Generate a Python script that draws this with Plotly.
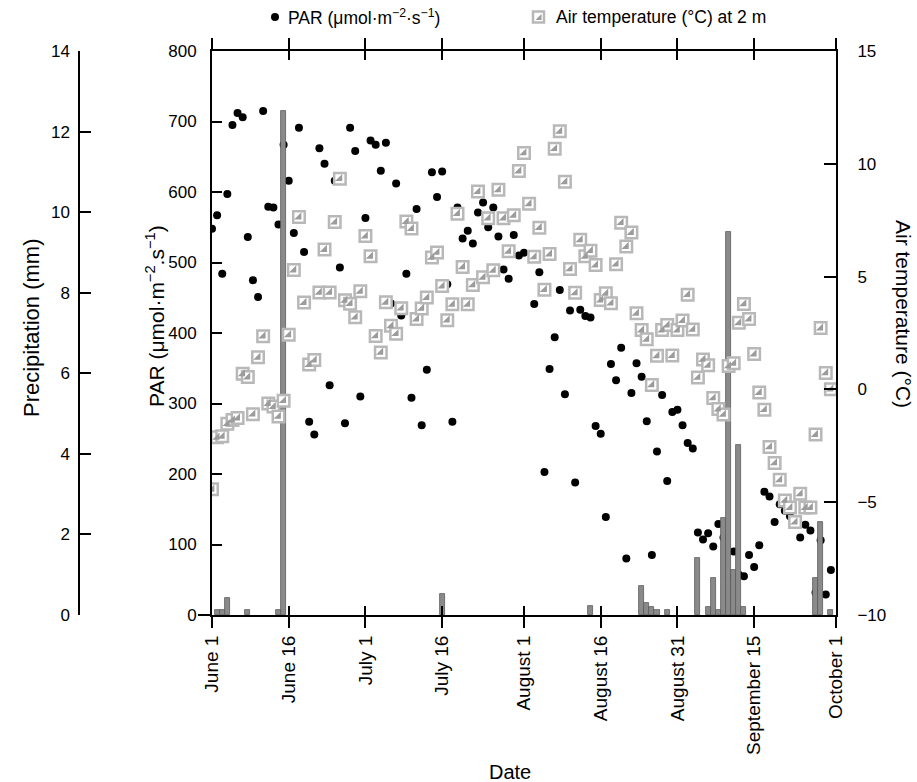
import pandas as pd
import plotly.graph_objects as go

# daily values, 1 June .. 30 September
par = [548, 567, 484, 597, 695, 712, 706, 536, 475, 451,
       715, 579, 578, 554, 667, 616, 542, 691, 515, 274,
       256, 662, 640, 326, 616, 493, 272, 691, 658, 310,
       563, 673, 667, 630, 670, 442, 612, 425, 484, 308,
       576, 269, 348, 628, 593, 629, 469, 274, 578, 534,
       545, 527, 571, 585, 550, 578, 537, 490, 477, 539,
       510, 514, 584, 441, 486, 203, 349, 394, 461, 313,
       432, 188, 433, 424, 422, 268, 257, 139, 356, 333,
       379, 80, 315, 357, 338, 275, 85, 232, 312, 190,
       288, 291, 269, 244, 236, 117, 107, 116, 97, 129,
       110, 54, 90, 57, 55, 85, 68, 99, 175, 168,
       132, 157, 148, 140, 128, 110, 128, 120, 32, 106,
       29, 64]

temp = [-4.43, -2.12, -2.08, -1.52, -1.36, -1.27, 0.69, 0.55, -1.10, 1.42,
        2.36, -0.63, -0.76, -1.2, -0.50, 2.42, 5.29, 7.64, 3.85, 1.1,
        1.3, 4.30, 6.2, 4.30, 7.42, 9.34, 3.95, 3.8, 3.2, 4.35,
        6.8, 5.9, 2.37, 1.64, 3.86, 2.82, 2.47, 3.6, 7.44, 7.13,
        3.12, 3.59, 4.07, 5.85, 6.07, 4.58, 3.07, 3.77, 7.79, 5.43,
        3.77, 4.63, 8.77, 4.97, 7.59, 5.28, 8.85, 7.59, 6.12, 7.72,
        9.68, 10.48, 8.23, 5.88, 7.17, 4.42, 6.0, 10.67, 11.44, 9.2,
        5.34, 4.28, 6.63, 5.9, 6.15, 5.51, 3.96, 4.26, 3.82, 5.55,
        7.39, 6.33, 6.95, 3.37, 2.63, 2.22, 0.2, 1.49, 2.63, 2.85,
        1.5, 2.63, 3.05, 4.2, 2.66, 0.53, 1.33, 1.07, -0.38, -0.87,
        -1.11, 1.04, 1.16, 2.95, 3.79, 3.12, 1.57, -0.14, -0.9, -2.55,
        -3.26, -4.01, -4.92, -5.24, -5.88, -4.63, -5.24, -5.24, -2.0, 2.72,
        0.73, 0.01]

rain_dates = ["2013-06-02", "2013-06-03", "2013-06-04", "2013-06-08", "2013-06-14",
              "2013-06-15", "2013-07-16", "2013-08-14", "2013-08-24", "2013-08-25",
              "2013-08-26", "2013-08-27", "2013-08-29", "2013-09-04", "2013-09-06",
              "2013-09-07", "2013-09-08", "2013-09-09", "2013-09-10", "2013-09-11",
              "2013-09-12", "2013-09-13", "2013-09-27", "2013-09-28", "2013-09-30"]
rain_mm = [0.13, 0.13, 0.42, 0.13, 0.13,
           12.5, 0.52, 0.23, 0.72, 0.31,
           0.21, 0.12, 0.12, 1.42, 0.21,
           0.91, 0.12, 2.42, 9.5, 1.12,
           4.22, 0.21, 0.91, 2.31, 0.12]

tick_dates = ["2013-06-01", "2013-06-16", "2013-07-01", "2013-07-16", "2013-08-01",
              "2013-08-16", "2013-08-31", "2013-09-15", "2013-10-01"]
tick_labels = ["June 1", "June 16", "July 1", "July 16", "August 1",
               "August 16", "August 31", "September 15", "October 1"]

days = pd.date_range("2013-06-01", periods=len(par), freq="D")

W, H = 917, 782
FONT = "Liberation Sans, Arial, sans-serif"
xl, xr, yt, yb = 212, 836, 51, 615


def px(x):
    return x / W


def py(y):
    return 1 - y / H


xdom = [px(xl), px(xr)]
ydom = [py(yb), py(yt)]

fig = go.Figure()

fig.add_trace(go.Scatter(x=days, y=par, mode="markers", yaxis="y", showlegend=False,
                         marker=dict(color="black", size=8)))

fig.add_trace(go.Bar(x=pd.to_datetime(rain_dates), y=rain_mm, yaxis="y2", showlegend=False,
                     width=86400000,
                     marker=dict(color="#8a8a8a", line=dict(color="#5a5a5a", width=0.8))))

# half filled square: open square + filled triangle
fig.add_trace(go.Scatter(x=days, y=temp, mode="markers", yaxis="y3", showlegend=False,
                         marker=dict(symbol="square", color="white", size=11.5,
                                     line=dict(color="#b8b8b8", width=2.5))))
fig.add_trace(go.Scatter(x=days, y=temp, mode="markers", yaxis="y3", showlegend=False,
                         hoverinfo="skip",
                         marker=dict(symbol="triangle-se", color="#9c9c9c", size=8,
                                     line=dict(width=0))))
fig.add_trace(go.Scatter(x=[None], y=[None], xaxis="x2", showlegend=False))

tickfont = dict(family=FONT, size=17, color="black")
xtickfont = dict(family=FONT, size=19, color="black")

# legend drawn by hand
leg_y = 17
shapes = [
    dict(type="circle", xref="paper", yref="paper", x0=px(271), x1=px(279),
         y0=py(leg_y + 4), y1=py(leg_y - 4), fillcolor="black", line=dict(width=0)),
    dict(type="rect", xref="paper", yref="paper", x0=px(533), x1=px(544),
         y0=py(leg_y + 5.5), y1=py(leg_y - 5.5), fillcolor="white",
         line=dict(color="#b8b8b8", width=2.5)),
    dict(type="path", xref="paper", yref="paper",
         path=f"M {px(535.5)} {py(leg_y + 3)} L {px(541.5)} {py(leg_y + 3)} L {px(541.5)} {py(leg_y - 3)} Z",
         fillcolor="#9c9c9c", line=dict(width=0)),
    # short extension of the bottom axis line to the left
    dict(type="line", xref="paper", yref="paper", x0=px(198), x1=px(212),
         y0=py(yb), y1=py(yb), line=dict(color="black", width=2)),
]


def label(text, x, y, size, angle=0, xanchor="center"):
    return dict(text=text, x=px(x), y=py(y), xref="paper", yref="paper",
                xanchor=xanchor, yanchor="middle", textangle=angle, showarrow=False,
                font=dict(family=FONT, size=size, color="black"))


fig.update_layout(
    width=W, height=H,
    margin=dict(l=0, r=0, t=0, b=0, autoexpand=False),
    paper_bgcolor="white", plot_bgcolor="white",
    font=dict(family=FONT, size=17, color="black"),
    bargap=0,
    showlegend=False,
    xaxis=dict(domain=xdom, type="date", range=["2013-06-01", "2013-10-01"],
               tickvals=tick_dates, ticktext=tick_labels, tickangle=-90,
               ticks="outside", ticklen=11, tickwidth=2, tickcolor="black",
               showline=True, linecolor="black", linewidth=2, mirror="ticks",
               showgrid=False, zeroline=False, tickfont=xtickfont),
    xaxis2=dict(domain=xdom, type="date", range=["2013-06-01", "2013-10-01"],
                overlaying="x", anchor="y", tickvals=tick_dates, showticklabels=False,
                ticks="inside", ticklen=9, tickwidth=2, tickcolor="black",
                showline=False, mirror="ticks", showgrid=False, zeroline=False),
    yaxis=dict(domain=ydom, range=[0, 800], dtick=100, ticks="inside", ticklen=10,
               tickwidth=2, tickcolor="black", showline=True, linecolor="black",
               linewidth=2, showgrid=False, zeroline=False, tickfont=tickfont,
               ticklabelstandoff=10),
    yaxis2=dict(domain=ydom, range=[0, 14], dtick=2, overlaying="y", anchor="free",
                side="left", position=px(79), ticks="inside", ticklen=11, tickwidth=1.5,
                tickcolor="black", showline=True, linecolor="black", linewidth=1.5,
                showgrid=False, zeroline=False, tickfont=tickfont, ticklabelstandoff=5),
    yaxis3=dict(domain=ydom, range=[-10, 15], dtick=5, overlaying="y", anchor="x",
                side="right", ticks="inside", ticklen=12, tickwidth=2, tickcolor="black",
                showline=True, linecolor="black", linewidth=2,
                showgrid=False, zeroline=False, tickfont=tickfont, ticklabelstandoff=16),
    shapes=shapes,
    annotations=[
        label("PAR (μmol·m<sup>−2</sup>·s<sup>−1</sup>)", 286, leg_y, 17.5, xanchor="left"),
        label("Air temperature (°C) at 2 m", 554, leg_y, 17.5, xanchor="left"),
        label("Precipitation (mm)", 31, 328, 22, angle=-90),
        label("PAR (μmol·m<sup>−2</sup>.s<sup>−1</sup>)", 155, 316, 21, angle=-90),
        label("Air temperature (°C)", 904, 314, 21, angle=90),
        label("Date", 510, 772, 20),
    ],
)

# the page body has a default 8px margin; drop it so the figure sits at the corner
fig.write_html("out.html", config={"displayModeBar": False},
               post_script="document.body.style.margin = '0';")
